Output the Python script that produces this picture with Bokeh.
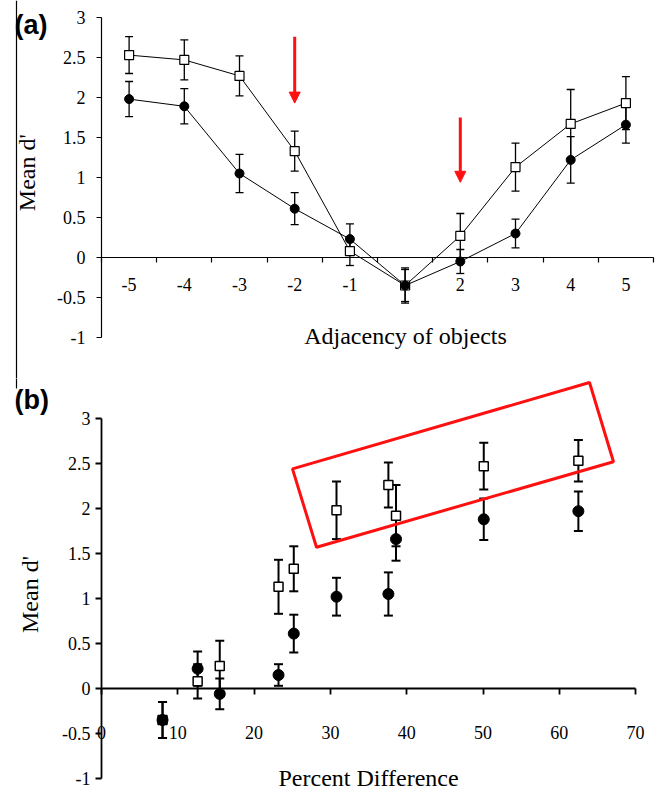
from math import pi
from bokeh.plotting import figure
from bokeh.layouts import column
from bokeh.models import (ColumnDataSource, Whisker, TeeHead, FixedTicker, Span,
                          NumeralTickFormatter, Label, Arrow, NormalHead, Range1d)
from bokeh.embed import file_html
from bokeh.resources import INLINE

# ---------------- data: panel (a) ----------------
adjacency_labels = ["-5", "-4", "-3", "-2", "-1", "", "2", "3", "4", "5"]
adj_open_mean = [2.53, 2.47, 2.27, 1.33, 0.08, -0.35, 0.27, 1.13, 1.67, 1.93]
adj_open_err = [0.23, 0.25, 0.25, 0.25, 0.18, 0.20, 0.28, 0.30, 0.43, 0.33]
adj_filled_mean = [1.98, 1.89, 1.05, 0.61, 0.23, -0.35, -0.05, 0.30, 1.22, 1.66]
adj_filled_err = [0.22, 0.22, 0.24, 0.20, 0.19, 0.22, 0.15, 0.18, 0.29, 0.23]
arrow_categories = ["-2", "2"]

# ---------------- data: panel (b) ----------------
percent_difference = [8.0, 12.6, 15.5, 23.2, 25.2, 30.8, 37.6, 38.6, 50.1, 62.5]
pct_open_mean = [-0.35, 0.08, 0.25, 1.13, 1.33, 1.98, 2.26, 1.92, 2.47, 2.53]
pct_open_err = [0.20, 0.19, 0.28, 0.30, 0.25, 0.32, 0.25, 0.34, 0.26, 0.23]
pct_filled_mean = [-0.35, 0.22, -0.06, 0.15, 0.61, 1.02, 1.05, 1.66, 1.88, 1.97]
pct_filled_err = [0.20, 0.19, 0.17, 0.12, 0.21, 0.21, 0.24, 0.24, 0.23, 0.22]

y_ticks = [-1, -0.5, 0, 0.5, 1, 1.5, 2, 2.5, 3]
pct_ticks = [0, 10, 20, 30, 40, 50, 60, 70]

SERIF = "Liberation Serif"
SANS = "Liberation Sans"
RED = "#ff1010"
W = 659
H_A = 378
H_B = 412


def style_common(p):
    p.grid.visible = False
    p.outline_line_color = None
    p.background_fill_color = "white"
    p.border_fill_color = "white"


def style_axis(ax, lw):
    ax.axis_line_width = lw
    ax.axis_line_color = "black"
    ax.major_tick_line_color = "black"
    ax.minor_tick_line_color = "black"
    ax.major_tick_line_width = lw
    ax.minor_tick_line_width = lw
    ax.major_label_text_font = SERIF
    ax.major_label_text_font_size = "18px"
    ax.major_label_text_color = "black"


def text_label(p, **kw):
    p.add_layout(Label(text_color="black", **kw))


# ---------------- panel (a) ----------------
positions = list(range(1, len(adjacency_labels) + 1))
# frame covers whole canvas; 55.2 px per category, 80 px per unit of d'
a_x0 = 0.5 - 101 / 55.2
a_x1 = a_x0 + W / 55.2
a_y1 = 3 + 17 / 80
a_y0 = a_y1 - H_A / 80
pa = figure(width=W, height=H_A, title=None,
            x_range=Range1d(a_x0, a_x1), y_range=Range1d(a_y0, a_y1),
            output_backend="svg", toolbar_location=None, min_border=0)
style_common(pa)

style_axis(pa.yaxis[0], 1.2)
pa.yaxis.fixed_location = 0.5
pa.yaxis.bounds = (y_ticks[0], y_ticks[-1])
pa.yaxis.ticker = FixedTicker(ticks=y_ticks)
pa.yaxis.formatter = NumeralTickFormatter(format="0.[0]")
pa.yaxis.major_tick_out = 5
pa.yaxis.major_tick_in = 0
pa.yaxis.major_label_standoff = 11

style_axis(pa.xaxis[0], 1.2)
pa.xaxis.fixed_location = 0
pa.xaxis.bounds = (0.5, positions[-1] + 0.5)
pa.xaxis.ticker = FixedTicker(ticks=positions,
                              minor_ticks=[x - 0.5 for x in positions] + [positions[-1] + 0.5])
pa.xaxis.major_label_overrides = {x: lab for x, lab in zip(positions, adjacency_labels)}
pa.xaxis.major_tick_out = 0
pa.xaxis.major_tick_in = 0
pa.xaxis.minor_tick_out = 5
pa.xaxis.minor_tick_in = 0
pa.xaxis.major_label_standoff = 15

src_a = ColumnDataSource(dict(
    x=positions,
    om=adj_open_mean,
    ou=[m + e for m, e in zip(adj_open_mean, adj_open_err)],
    ol=[m - e for m, e in zip(adj_open_mean, adj_open_err)],
    fm=adj_filled_mean,
    fu=[m + e for m, e in zip(adj_filled_mean, adj_filled_err)],
    fl=[m - e for m, e in zip(adj_filled_mean, adj_filled_err)],
))

pa.line("x", "om", source=src_a, line_color="black", line_width=1)
pa.line("x", "fm", source=src_a, line_color="black", line_width=1)
for up, lo in (("ou", "ol"), ("fu", "fl")):
    w = Whisker(base="x", upper=up, lower=lo, source=src_a, line_width=1.3, line_color="black",
                upper_head=TeeHead(size=8, line_width=1.3, line_color="black"),
                lower_head=TeeHead(size=8, line_width=1.3, line_color="black"),
                level="underlay")
    pa.add_layout(w)
pa.scatter("x", "om", source=src_a, marker="square", size=9, fill_color="white",
           line_color="black", line_width=1.2)
pa.scatter("x", "fm", source=src_a, marker="circle", size=9, fill_color="black",
           line_color="black")

arrow_tops = [2.76, 1.75]
arrow_tips = [1.93, 0.94]
for cat, y0, y1 in zip(arrow_categories, arrow_tops, arrow_tips):
    xa = positions[adjacency_labels.index(cat)]
    pa.add_layout(Arrow(end=NormalHead(size=11, fill_color=RED, line_color=RED, line_width=1),
                        x_start=xa, y_start=y0, x_end=xa, y_end=y1,
                        line_color=RED, line_width=3))

text_label(pa, x=a_x0 + 14 / 55.2, y=a_y1 - 24 / 80, text="(a)", text_font=SANS,
           text_font_style="bold", text_font_size="27px",
           text_align="left", text_baseline="middle")
text_label(pa, x=a_x0 + 26 / 55.2, y=1.06, text="Mean d'", angle=pi / 2, text_font=SERIF,
           text_font_size="24px", text_align="center", text_baseline="middle")
text_label(pa, x=a_x0 + 405 / 55.2, y=-0.975, text="Adjacency of objects", text_font=SERIF,
           text_font_size="24px", text_align="center", text_baseline="alphabetic")
pa.add_layout(Span(location=a_x0 + 16 / 55.2, dimension="height", line_color="black",
                   line_width=1.2))

# ---------------- panel (b) ----------------
# frame covers whole canvas; 7.63 px per percent, 90 px per unit of d'
B_PX = 90
B_TOP3 = 418 - H_A      # canvas pixel row of d' = 3
b_x0 = -101 / 7.63
b_x1 = b_x0 + W / 7.63
b_y1 = 3 + B_TOP3 / B_PX
b_y0 = b_y1 - H_B / B_PX
pb = figure(width=W, height=H_B, title=None,
            x_range=Range1d(b_x0, b_x1), y_range=Range1d(b_y0, b_y1),
            output_backend="svg", toolbar_location=None, min_border=0)
style_common(pb)

style_axis(pb.yaxis[0], 1.8)
pb.yaxis.fixed_location = 0
pb.yaxis.bounds = (y_ticks[0], y_ticks[-1])
pb.yaxis.ticker = FixedTicker(ticks=y_ticks)
pb.yaxis.formatter = NumeralTickFormatter(format="0.[0]")
pb.yaxis.major_tick_out = 6
pb.yaxis.major_tick_in = 0
pb.yaxis.major_label_standoff = 5

style_axis(pb.xaxis[0], 1.8)
pb.xaxis.fixed_location = 0
pb.xaxis.bounds = (pct_ticks[0], pct_ticks[-1])
pb.xaxis.ticker = FixedTicker(ticks=pct_ticks)
pb.xaxis.major_tick_out = 6
pb.xaxis.major_tick_in = 0
pb.xaxis.major_label_standoff = 31

src_b = ColumnDataSource(dict(
    x=percent_difference,
    om=pct_open_mean,
    ou=[m + e for m, e in zip(pct_open_mean, pct_open_err)],
    ol=[m - e for m, e in zip(pct_open_mean, pct_open_err)],
    fm=pct_filled_mean,
    fu=[m + e for m, e in zip(pct_filled_mean, pct_filled_err)],
    fl=[m - e for m, e in zip(pct_filled_mean, pct_filled_err)],
))
for up, lo in (("ou", "ol"), ("fu", "fl")):
    w = Whisker(base="x", upper=up, lower=lo, source=src_b, line_width=2, line_color="black",
                upper_head=TeeHead(size=9, line_width=2, line_color="black"),
                lower_head=TeeHead(size=9, line_width=2, line_color="black"),
                level="underlay")
    pb.add_layout(w)
pb.scatter("x", "om", source=src_b, marker="square", size=9, fill_color="white",
           line_color="black", line_width=1.5)
pb.scatter("x", "fm", source=src_b, marker="circle", size=11, fill_color="black",
           line_color="black")

highlight_box_x = [25.03, 63.96, 67.10, 28.18]
highlight_box_y = [2.44, 3.40, 2.52, 1.57]
pb.patch(highlight_box_x, highlight_box_y, fill_color=None, line_color=RED, line_width=3)

text_label(pb, x=b_x0 + 14 / 7.63, y=3 + (418 - 399) / B_PX, text="(b)", text_font=SANS,
           text_font_style="bold", text_font_size="27px",
           text_align="left", text_baseline="middle")
text_label(pb, x=b_x0 + 29 / 7.63, y=3 - (594 - 418) / B_PX, text="Mean d'", angle=pi / 2,
           text_font=SERIF, text_font_size="24px", text_align="center", text_baseline="middle")
text_label(pb, x=35, y=3 - (777 - 418) / B_PX, text="Percent Difference", text_font=SERIF,
           text_font_size="24px", text_align="center", text_baseline="alphabetic")
pb.segment(x0=[b_x0 + 16 / 7.63], y0=[b_y1 + 0.2], x1=[b_x0 + 16 / 7.63],
           y1=[3 + (418 - 388) / B_PX], line_color="black", line_width=1.2)

layout = column(pa, pb, spacing=0)
open("out.html", "w").write(file_html(layout, INLINE))
